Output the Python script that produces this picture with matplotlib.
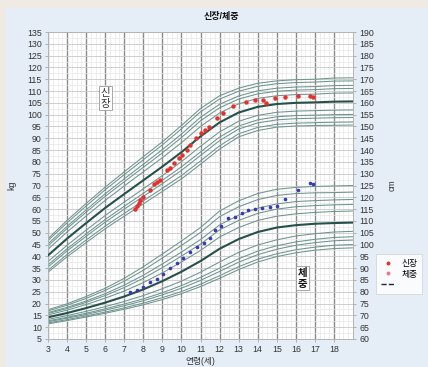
import numpy as np
import matplotlib
matplotlib.use("Agg")
from matplotlib import pyplot as plt
from matplotlib.lines import Line2D
from matplotlib.patches import Rectangle
from matplotlib.ticker import MultipleLocator

plt.rcParams['font.family'] = ['Liberation Sans', 'Noto Sans CJK KR', 'DejaVu Sans']

# ---------------------------------------------------------------------------
# Data
# ---------------------------------------------------------------------------
AGES = [3, 4, 5, 6, 7, 8, 9, 10, 11, 12, 13, 14, 15, 16, 17, 18, 19]

# height reference curves (cm), one row per percentile, low -> high
HEIGHT_CURVES = [
    [88.3, 94.8, 100.8, 106.7, 112.0, 117.2, 122.5, 127.8, 134.0, 140.4, 145.6, 148.3, 149.7, 150.2, 150.4, 150.5, 150.6],
    [89.1, 95.8, 101.9, 107.8, 113.2, 118.5, 123.8, 129.2, 135.4, 141.8, 146.9, 149.6, 150.9, 151.4, 151.6, 151.8, 151.9],
    [90.5, 97.3, 103.5, 109.5, 115.0, 120.4, 125.8, 131.4, 137.7, 144.0, 148.9, 151.5, 152.8, 153.3, 153.5, 153.7, 153.8],
    [91.4, 98.2, 104.5, 110.6, 116.2, 121.7, 127.2, 132.9, 139.2, 145.5, 150.2, 152.8, 154.1, 154.6, 154.8, 155.0, 155.1],
    [92.8, 99.7, 106.1, 112.3, 118.0, 123.6, 129.2, 135.1, 141.6, 147.7, 152.2, 154.7, 156.0, 156.5, 156.7, 156.9, 157.0],
    [95.4, 102.5, 109.1, 115.5, 121.4, 127.2, 133.0, 139.1, 145.8, 151.7, 155.9, 158.3, 159.5, 160.0, 160.2, 160.5, 160.6],
    [98.0, 105.3, 112.1, 118.7, 124.8, 130.8, 136.8, 143.1, 150.0, 155.7, 159.6, 161.9, 163.0, 163.5, 163.7, 164.1, 164.2],
    [99.4, 106.8, 113.7, 120.4, 126.6, 132.7, 138.8, 145.3, 152.4, 157.9, 161.6, 163.8, 164.9, 165.4, 165.6, 166.0, 166.1],
    [100.3, 107.7, 114.7, 121.5, 127.8, 134.0, 140.2, 146.8, 153.9, 159.4, 162.9, 165.1, 166.2, 166.7, 166.9, 167.3, 167.4],
    [101.7, 109.2, 116.3, 123.2, 129.6, 135.9, 142.2, 149.0, 156.2, 161.6, 164.9, 167.0, 168.1, 168.6, 168.8, 169.2, 169.3],
    [102.5, 110.2, 117.4, 124.3, 130.8, 137.2, 143.5, 150.4, 157.6, 163.0, 166.2, 168.3, 169.3, 169.8, 170.0, 170.5, 170.6],
]

# weight reference curves (kg), one row per percentile, low -> high
WEIGHT_CURVES = [
    [11.4, 12.8, 14.3, 15.9, 17.6, 19.5, 21.7, 24.2, 27.2, 30.7, 34.4, 37.6, 39.9, 41.5, 42.6, 43.3, 43.6],
    [11.8, 13.2, 14.8, 16.4, 18.2, 20.2, 22.5, 25.1, 28.2, 31.8, 35.6, 38.8, 41.1, 42.8, 43.9, 44.7, 45.0],
    [12.3, 13.8, 15.4, 17.2, 19.1, 21.2, 23.7, 26.5, 29.8, 33.6, 37.5, 40.7, 43.0, 44.7, 45.8, 46.6, 46.9],
    [12.7, 14.2, 15.9, 17.8, 19.8, 22.0, 24.6, 27.6, 31.1, 35.0, 39.0, 42.2, 44.5, 46.1, 47.2, 48.0, 48.3],
    [13.3, 14.9, 16.7, 18.7, 20.9, 23.4, 26.3, 29.5, 33.3, 37.6, 41.7, 44.8, 47.0, 48.6, 49.6, 50.3, 50.6],
    [14.2, 16.0, 18.1, 20.4, 23.0, 26.0, 29.5, 33.5, 38.0, 43.2, 47.3, 50.3, 52.2, 53.2, 53.8, 54.1, 54.3],
    [15.2, 17.2, 19.6, 22.3, 25.3, 28.9, 33.0, 37.6, 42.5, 48.2, 52.2, 55.2, 57.0, 58.0, 58.6, 59.0, 59.2],
    [15.8, 17.9, 20.5, 23.4, 26.8, 30.7, 35.2, 40.1, 45.2, 51.2, 55.2, 58.2, 60.0, 61.0, 61.5, 61.8, 62.0],
    [16.2, 18.4, 21.1, 24.2, 27.8, 32.0, 36.8, 41.8, 47.1, 53.3, 57.4, 60.4, 62.2, 63.2, 63.6, 63.9, 64.1],
    [16.9, 19.3, 22.2, 25.6, 29.5, 34.1, 39.3, 44.6, 50.1, 56.8, 61.0, 64.0, 65.8, 66.6, 66.9, 67.0, 67.2],
    [17.4, 19.9, 23.0, 26.5, 30.7, 35.6, 41.0, 46.5, 52.2, 59.2, 63.5, 66.6, 68.4, 69.2, 69.6, 69.8, 70.0],
]
MEDIAN_ROW = 5

# measured height (cm)
HT_AGE = [7.58, 7.67, 7.75, 7.84, 7.98, 8.33, 8.58, 8.72, 8.89, 9.25, 9.42, 9.59, 9.86,
          10.04, 10.30, 10.47, 10.74, 11.00, 11.26, 11.44, 11.84, 12.16, 12.70, 13.41,
          13.84, 14.28, 14.46, 14.89, 15.42, 16.12, 16.74, 16.91]
HT_CM = [114.9, 116.3, 117.7, 118.9, 120.0, 123.1, 125.6, 126.6, 127.3, 131.6, 132.3, 134.4, 136.5,
         137.9, 140.0, 142.2, 145.0, 147.1, 148.5, 149.9, 153.6, 155.7, 158.7, 160.5,
         161.2, 161.2, 159.8, 161.9, 162.6, 162.9, 162.9, 162.4]

# measured weight (kg)
WT_AGE = [7.32, 7.68, 8.00, 8.37, 8.74, 9.05, 9.42, 9.79, 10.10, 10.47, 10.84, 11.16, 11.50,
          11.74, 12.05, 12.42, 12.79, 13.16, 13.47, 13.84, 14.21, 14.63, 15.00, 15.42,
          16.10, 16.74, 16.90]
WT_KG = [24.9, 25.7, 27.0, 29.1, 30.4, 32.5, 35.1, 37.2, 39.3, 41.8, 44.0, 45.7, 47.8,
         51.2, 52.9, 56.2, 56.7, 58.4, 59.6, 60.0, 60.5, 60.9, 61.3, 64.3,
         68.1, 71.1, 70.6]

CURVE_C = '#6d948f'
MEDIAN_C = '#25514b'

W, H = 428, 367
fig = plt.figure(figsize=(W / 100, H / 100), dpi=100, facecolor='#efebe4')
fig.patches.append(Rectangle((6 / W, 0), 1, 1 - 8 / H, transform=fig.transFigure,
                             facecolor='#e5edf6', edgecolor='none', zorder=-10))

ax = fig.add_axes([48 / W, 1 - 339 / H, (353 - 48) / W, (339 - 32) / H])
ax.set_facecolor('white')
ax.set_xlim(3, 19)
ax.set_ylim(5, 135)
ax2 = ax.twinx()
ax2.set_ylim(60, 190)

# grid
ax.xaxis.set_major_locator(MultipleLocator(1))
ax.xaxis.set_minor_locator(MultipleLocator(0.25))
ax.yaxis.set_major_locator(MultipleLocator(5))
ax.yaxis.set_minor_locator(MultipleLocator(2.5))
ax.grid(True, which='minor', color='#e8e8e8', lw=0.5)
ax.grid(True, which='major', axis='y', color='#c8c8c8', lw=0.6)
ax.grid(True, which='major', axis='x', color='#8a8a8a', lw=1.0)
ax.set_axisbelow(True)
ax.set_xticks(range(3, 19))
ax2.yaxis.set_major_locator(MultipleLocator(5))

for a in (ax, ax2):
    for s in a.spines.values():
        s.set_color('#b5b5b5')
        s.set_linewidth(0.6)
    a.tick_params(which='both', length=0)
    a.tick_params(which='major', length=2.5, width=0.5, color='#999999',
                  labelsize=6.3, labelcolor='#333333', pad=2)

# reference curves
for i, row in enumerate(WEIGHT_CURVES):
    med = i == MEDIAN_ROW
    ax.plot(AGES, row, color=MEDIAN_C if med else CURVE_C,
            lw=1.5 if med else 0.75, zorder=3 if med else 2)
for i, row in enumerate(HEIGHT_CURVES):
    med = i == MEDIAN_ROW
    ax2.plot(AGES, row, color=MEDIAN_C if med else CURVE_C,
             lw=1.5 if med else 0.75, zorder=3 if med else 2)

# measurements
ax2.plot(HT_AGE, HT_CM, ls='none', marker='o', ms=2.2, color='#e5302c', zorder=5)
ax.plot(WT_AGE, WT_KG, ls='none', marker='o', ms=1.6, color='#3a38b4', zorder=5)

# labels inside chart
box = dict(boxstyle='square,pad=0.15', facecolor='white', edgecolor='#9a9a9a', lw=0.6)
ax.text(6.0, 107, '신\n장', fontsize=7.5, color='#333333', ha='center', va='center',
        linespacing=1.1, bbox=box, zorder=6)
ax.text(16.37, 30.8, '체\n중', fontsize=7.5, fontweight='bold', color='#111111',
        ha='center', va='center', linespacing=1.1, bbox=box, zorder=6)

fig.text(221 / W, 1 - 17 / H, '신장/체중', fontsize=6.5, fontweight='bold',
         ha='center', va='center', color='#111111')
fig.text(200 / W, 1 - 361 / H, '연령(세)', fontsize=6.3, ha='center', va='center',
         color='#333333')
fig.text(12 / W, 1 - 185 / H, 'kg', fontsize=6.3, rotation=90, ha='center',
         va='center', color='#333333')
fig.text(392 / W, 1 - 185 / H, 'cm', fontsize=6.3, rotation=90, ha='center',
         va='center', color='#333333')

handles = [
    Line2D([], [], ls='none', marker='o', ms=1.8, color='#e5302c'),
    Line2D([], [], ls='none', marker='o', ms=1.8, color='#e57a8a'),
    Line2D([], [], ls='--', lw=1.0, color='#222244'),
]
leg = fig.legend(handles, ['신장', '체중', ''], loc='upper left',
                 bbox_to_anchor=(372 / W, 1 - 250 / H), fontsize=6.3,
                 frameon=True, fancybox=False, handlelength=1.6,
                 borderpad=0.5, labelspacing=0.2, handletextpad=0.8)
leg.get_frame().set_edgecolor('#d0d0d0')
leg.get_frame().set_linewidth(0.6)

fig.savefig('out.png', dpi=100, facecolor=fig.get_facecolor())
